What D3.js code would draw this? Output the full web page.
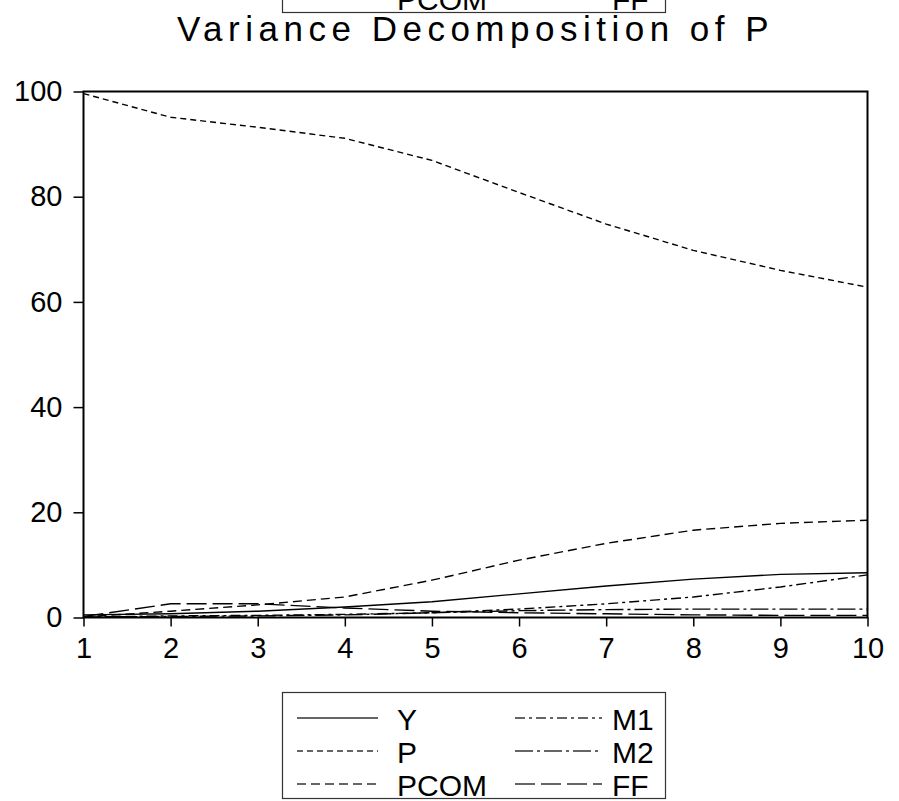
<!DOCTYPE html>
<html>
<head>
<meta charset="utf-8">
<script src="https://cdn.jsdelivr.net/npm/d3@7"></script>
<style>
  body { margin: 0; background: #fff; }
  svg { display: block; font-family: "Liberation Sans", Arial, sans-serif; }
</style>
</head>
<body>
<script>
// data
var periods = [1, 2, 3, 4, 5, 6, 7, 8, 9, 10];
var seriesY    = [0.5, 0.7, 1.2, 2.0, 3.0, 4.5, 6.0, 7.3, 8.2, 8.5];
var seriesP    = [99.6, 95.1, 93.2, 91.1, 86.9, 80.8, 74.8, 69.8, 66.0, 62.8];
var seriesPCOM = [0.1, 1.2, 2.4, 3.9, 7.1, 10.9, 14.1, 16.6, 17.9, 18.5];
var seriesM1   = [0.1, 0.3, 0.4, 0.6, 0.9, 1.6, 2.6, 3.9, 5.8, 8.1];
var seriesM2   = [0.1, 0.2, 0.3, 0.5, 0.9, 1.3, 1.5, 1.6, 1.6, 1.6];
var seriesFF   = [0.2, 2.6, 2.6, 1.8, 1.2, 0.9, 0.7, 0.5, 0.4, 0.4];
var yTicks = [0, 20, 40, 60, 80, 100];
var legendNames = ["Y", "P", "PCOM", "M1", "M2", "FF"];

var width = 899,
    height = 801;

var svg = d3.select("body").append("svg")
    .attr("width", width)
    .attr("height", height);

var plotLeft = 83.5, plotRight = 867.5, plotTop = 91.5, plotBottom = 617.5;

var x = d3.scaleLinear().domain([1, 10]).range([plotLeft, plotRight]);
var y = d3.scaleLinear().domain([0, 100]).range([plotBottom, plotTop]);

var dashes = {
    "Y": null,
    "P": "6,4",
    "PCOM": "9,5",
    "M1": "10,4,3,4",
    "M2": "18,4,3,4",
    "FF": "20,6"
};

var series = [
    { name: "Y", values: seriesY },
    { name: "P", values: seriesP },
    { name: "PCOM", values: seriesPCOM },
    { name: "M1", values: seriesM1 },
    { name: "M2", values: seriesM2 },
    { name: "FF", values: seriesFF }
];

// title
svg.append("text")
    .attr("x", (plotLeft + plotRight) / 2)
    .attr("y", 41)
    .attr("text-anchor", "middle")
    .style("font-size", "35px")
    .style("letter-spacing", "5.5px")
    .text("Variance Decomposition of P");

// lines
var line = d3.line()
    .x(function (d, i) { return x(periods[i]); })
    .y(function (d) { return y(d); });

svg.append("g").selectAll("path")
    .data(series)
    .enter().append("path")
    .attr("d", function (d) { return line(d.values); })
    .attr("fill", "none")
    .attr("stroke", "#000")
    .attr("stroke-width", 1.4)
    .attr("stroke-dasharray", function (d) { return dashes[d.name]; });

// frame
svg.append("rect")
    .attr("x", plotLeft).attr("y", plotTop)
    .attr("width", plotRight - plotLeft).attr("height", plotBottom - plotTop)
    .attr("fill", "none")
    .attr("stroke", "#000")
    .attr("stroke-width", 2);

// axes
var yAxis = svg.append("g")
    .attr("transform", "translate(" + plotLeft + ",0)")
    .call(d3.axisLeft(y).tickValues(yTicks).tickSize(10).tickPadding(11));

var xAxis = svg.append("g")
    .attr("transform", "translate(0," + plotBottom + ")")
    .call(d3.axisBottom(x).tickValues(periods).tickFormat(d3.format("d")).tickSize(9).tickPadding(11));

[yAxis, xAxis].forEach(function (a) {
    a.select(".domain").remove();
    a.selectAll("line").attr("stroke", "#000").attr("stroke-width", 1.5);
    a.selectAll("text")
        .attr("fill", "#000")
        .style("font-family", "'Liberation Sans', Arial, sans-serif")
        .style("font-size", "29px");
});

// legend (drawn twice, the top copy is cut off by the page edge)
function drawLegend(g) {
    g.append("rect")
        .attr("x", 282.5).attr("y", 692.5)
        .attr("width", 383).attr("height", 106)
        .attr("fill", "#fff")
        .attr("stroke", "#333")
        .attr("stroke-width", 1.2);

    var items = g.selectAll(".item")
        .data(legendNames)
        .enter().append("g")
        .attr("class", "item")
        .attr("transform", function (d, i) {
            var col = Math.floor(i / 3), row = i % 3;
            return "translate(" + (col === 0 ? 297 : 515) + "," + (730 + row * 33) + ")";
        });

    items.append("line")
        .attr("x1", 0)
        .attr("x2", function (d, i) { return i < 3 ? 81 : 87; })
        .attr("y1", -12).attr("y2", -12)
        .attr("stroke", "#333")
        .attr("stroke-width", 1.4)
        .attr("stroke-dasharray", function (d) { return dashes[d]; });

    items.append("text")
        .attr("x", function (d, i) { return i < 3 ? 100 : 97; })
        .attr("y", 0)
        .style("font-size", "30px")
        .text(function (d) { return d; });
}

drawLegend(svg.append("g"));
drawLegend(svg.append("g").attr("transform", "translate(0,-786)"));
</script>
</body>
</html>
